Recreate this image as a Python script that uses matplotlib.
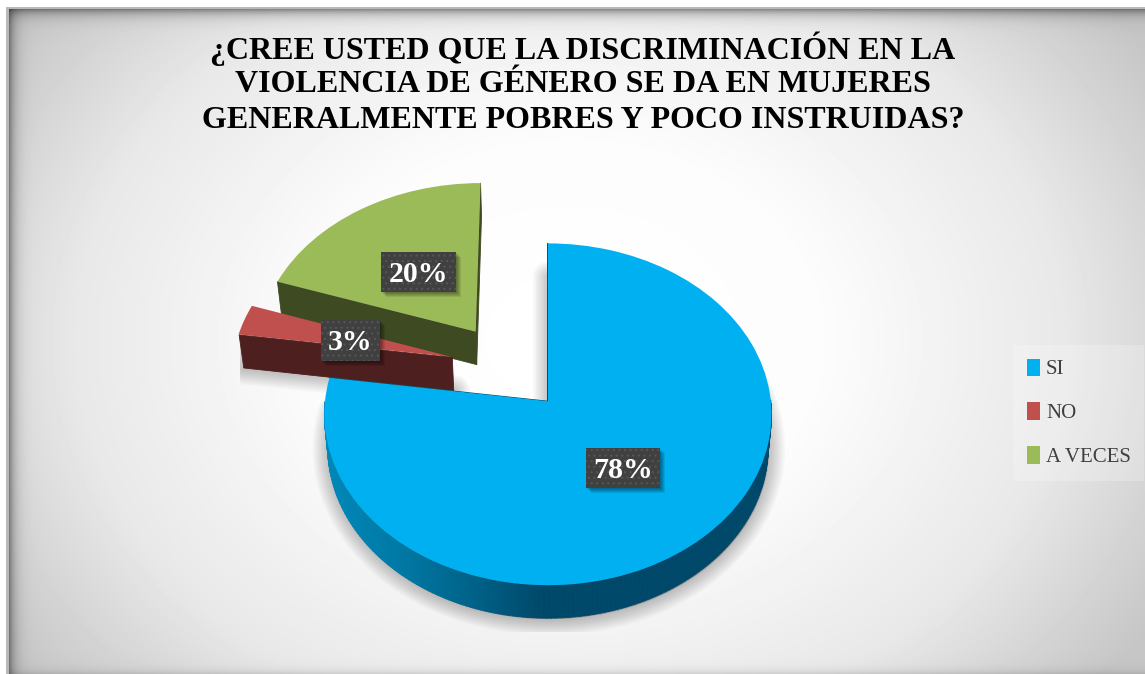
import numpy as np
import matplotlib
matplotlib.use("Agg")
import matplotlib.pyplot as plt
from matplotlib.transforms import Transform
from matplotlib.patches import PathPatch, Rectangle
from matplotlib.collections import PolyCollection

title_lines = ["¿CREE USTED QUE LA DISCRIMINACIÓN EN LA",
               "VIOLENCIA DE GÉNERO SE DA EN MUJERES",
               "GENERALMENTE POBRES Y POCO INSTRUIDAS?"]
categories = ["SI", "NO", "A VECES"]
values = [78, 3, 20]
colors = ["#00B0F0", "#C0504D", "#9BBB59"]
dark_colors = ["#00486A", "#4D1F1E", "#3E4A22"]
explode = [0.27, 0.27, 0.27]

W, H = 1145, 674
SERIF = "Liberation Serif"
plt.rcParams["hatch.linewidth"] = 0.8

fig = plt.figure(figsize=(W / 100, H / 100), dpi=100)
ax = fig.add_axes([0, 0, 1, 1])


class Proj(Transform):
    """Tilted view of the pie plane, output in image pixels."""
    input_dims = output_dims = 2
    is_separable = False
    has_inverse = False

    def __init__(self, dz=0.0, dx=0.0, s=1.0):
        super().__init__()
        self.dz, self.dx, self.s = dz, dx, s

    def transform_non_affine(self, xy):
        xy = np.asarray(xy, float)
        u = xy[:, 0] - 0.173
        v = xy[:, 1] + 0.208
        w = 1 + 0.076 * v
        return np.column_stack([547 + self.dx + self.s * 223 * u / w,
                                402 + self.dz - 170 * v / w])


# background
yy, xx = np.mgrid[0:H, 0:W] + 0.5
t = np.hypot((xx - 570) / 570, (yy - 340) / 450)
g = np.interp(t, [0, 0.45, 0.87, 1.2], [255, 252, 232, 198])
g = g * (1 - 0.45 * np.exp(-(xx - 9).clip(0) / 6)) * (1 - 0.45 * np.exp(-(yy - 9).clip(0) / 6))
g = g * (1 - 0.10 * np.exp(-(673 - yy) / 4))
g[(xx < 9) | (yy < 9)] = 184
g[(xx < 6) | (yy < 7)] = 255
ax.imshow(g, cmap="gray", vmin=0, vmax=255, extent=(0, W, H, 0), aspect="auto", zorder=0,
          interpolation="nearest")

wedges, _ = ax.pie(values, colors=colors, explode=explode, startangle=90,
                   counterclock=False, radius=1, frame=True)
ax.set_aspect("auto")
ax.set_xlim(0, W)
ax.set_ylim(H, 0)
ax.axis("off")

DZ, SX = 33, 0.985
top = Proj()
bottom = Proj(dz=DZ, s=SX)


def outline(w):
    th = np.radians(np.linspace(w.theta1, w.theta2, 240))
    c = np.array(w.center)
    arc = c + w.r * np.column_stack([np.cos(th), np.sin(th)])
    return np.vstack([c, arc, c])


def blue_side(x):
    xs = [325, 400, 470, 540, 780]
    gs = [0x88, 0x78, 0x62, 0x48, 0x48]
    bs = [0xB8, 0xA4, 0x88, 0x6A, 0x6A]
    return (0, np.interp(x, xs, gs) / 255, np.interp(x, xs, bs) / 255)


# soft shadows
shadow_clip = Rectangle((240, 0), 552, 632, transform=ax.transData)
for i in (1, 0):
    for k in range(10):
        sp = PathPatch(wedges[i].get_path(), facecolor="black", edgecolor="black", alpha=0.024,
                       lw=(10 - k) * 3.2 * 0.72, joinstyle="round",
                       transform=Proj(dz=DZ + 1, dx=1, s=SX) + ax.transData, zorder=2)
        ax.add_patch(sp)
        sp.set_clip_path(shadow_clip)

# slices, back to front
for order, i in enumerate((2, 1, 0)):
    w = wedges[i]
    pts = outline(w)
    a, b = top.transform(pts), bottom.transform(pts)
    quads, cols = [], []
    for j in range(len(pts) - 1):
        if pts[j + 1, 0] - pts[j, 0] <= 1e-9:
            continue
        quads.append([a[j], a[j + 1], b[j + 1], b[j]])
        cols.append(dark_colors[i] if i else blue_side(a[j][0]))
    ax.add_collection(PolyCollection(quads, facecolors=cols, edgecolors=cols, linewidths=0.6,
                                     zorder=3 + order * 2))
    w.set_transform(top + ax.transData)
    w.set_clip_on(False)
    w.set_zorder(4 + order * 2)
    w.set_edgecolor("none")
    if i == 0:
        edge = a[:2]
        ax.plot(edge[:, 0], edge[:, 1], color=dark_colors[0], lw=0.8, zorder=4 + order * 2 - 1)

# data labels
label_boxes = [(586, 448, 660, 488), (321, 320, 380, 361), (381, 252, 456, 292)]
for i, (x0, y0, x1, y1) in enumerate(label_boxes):
    for k in range(1, 6):
        ax.add_patch(Rectangle((x0 + k, y0 + k), x1 - x0, y1 - y0, facecolor="black",
                               edgecolor="none", alpha=0.09, zorder=18))
    ax.add_patch(Rectangle((x0, y0), x1 - x0, y1 - y0, facecolor="#404040", edgecolor="#565656",
                           hatch="...", linewidth=0, zorder=19))
    ax.text((x0 + x1) / 2, (y0 + y1) / 2 + 2, f"{values[i]}%", family=SERIF, weight="bold",
            fontsize=21.5, color="white", ha="center", va="center", zorder=20)

# title
for line, y in zip(title_lines, (49, 85, 121)):
    ax.text(583, y, line, family=SERIF, weight="bold", fontsize=23, color="black",
            ha="center", va="center", zorder=20)

# legend
leg = ax.legend(wedges, categories, loc="upper left", bbox_to_anchor=(1013, 345),
                bbox_transform=ax.transData, borderaxespad=0, frameon=True, fancybox=False,
                facecolor="white", framealpha=0.22, edgecolor="none",
                prop={"family": SERIF, "size": 15}, labelcolor="#404040",
                handlelength=0.63, handleheight=0.9, handletextpad=0.3,
                labelspacing=1.105, borderpad=0.65)
leg.set_zorder(15)

fig.savefig("out.png", dpi=100)
